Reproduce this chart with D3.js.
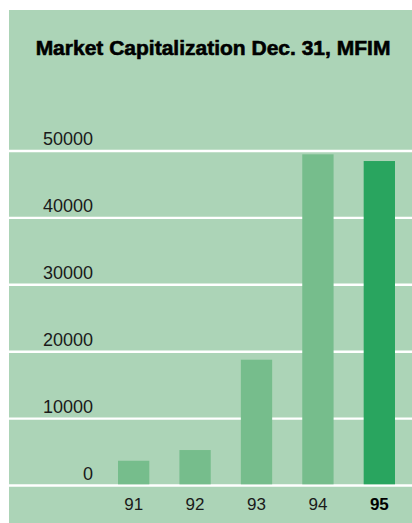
<!DOCTYPE html>
<html>
<head>
<meta charset="utf-8">
<script src="https://cdn.jsdelivr.net/npm/d3@7"></script>
<style>
  html, body { margin: 0; padding: 0; background: #fff; }
  svg { display: block; font-family: 'Liberation Sans', Arial, Helvetica, sans-serif; }
</style>
</head>
<body>
<div id="chart"></div>
<script>
/* Data */
const years = ['91', '92', '93', '94', '95'];
const capValues = [3700, 5300, 18800, 49500, 48500];
const yTicks = [0, 10000, 20000, 30000, 40000, 50000];
const highlightYear = '95';

const COLORS = {
  panel: '#acd4b7',
  bar: '#76bd8c',
  barHighlight: '#29a55f',
  grid: '#ffffff',
  text: '#1a1a1a'
};

const width = 412;
const height = 523;
const panel = { x: 9, y: 10, w: 403, h: 513 };

const svg = d3.select('#chart')
  .append('svg')
  .attr('width', width)
  .attr('height', height);

svg.append('rect')
  .attr('x', panel.x)
  .attr('y', panel.y)
  .attr('width', panel.w)
  .attr('height', panel.h)
  .attr('fill', COLORS.panel);

const y = d3.scaleLinear()
  .domain([0, 50000])
  .range([485.5, 151]);

const x = d3.scaleBand()
  .domain(years)
  .range([118, 395])
  .paddingInner(0.49)
  .paddingOuter(0);

// gridlines across the whole panel
svg.append('g')
  .selectAll('line')
  .data(yTicks)
  .join('line')
  .attr('x1', panel.x)
  .attr('x2', panel.x + panel.w)
  .attr('y1', (d) => y(d))
  .attr('y2', (d) => y(d))
  .attr('stroke', COLORS.grid)
  .attr('stroke-width', 2.4);

// y labels sit just above each gridline
svg.append('g')
  .selectAll('text')
  .data(yTicks)
  .join('text')
  .attr('x', 93)
  .attr('y', (d) => y(d) - 6)
  .attr('text-anchor', 'end')
  .style('font-size', '18px')
  .style('fill', COLORS.text)
  .text((d) => d);

// bars
svg.append('g')
  .selectAll('rect')
  .data(years.map((yr, i) => ({ yr, v: capValues[i] })))
  .join('rect')
  .attr('x', (d) => x(d.yr))
  .attr('width', x.bandwidth())
  .attr('y', (d) => y(d.v))
  .attr('height', (d) => y(0) - 1.2 - y(d.v))
  .attr('fill', (d) => (d.yr === highlightYear ? COLORS.barHighlight : COLORS.bar));

// x labels
svg.append('g')
  .selectAll('text')
  .data(years)
  .join('text')
  .attr('x', (d) => x(d) + x.bandwidth() / 2)
  .attr('y', 510)
  .attr('text-anchor', 'middle')
  .style('font-size', '17px')
  .style('font-weight', (d) => (d === highlightYear ? 'bold' : 'normal'))
  .style('fill', (d) => (d === highlightYear ? '#000' : COLORS.text))
  .text((d) => d);

// title, heavy weight
svg.append('text')
  .attr('x', 213)
  .attr('y', 55)
  .attr('text-anchor', 'middle')
  .style('font-size', '21px')
  .style('font-weight', 'bold')
  .style('fill', '#000')
  .style('stroke', '#000')
  .style('stroke-width', 0.6)
  .text('Market Capitalization Dec. 31, MFIM');
</script>
</body>
</html>
